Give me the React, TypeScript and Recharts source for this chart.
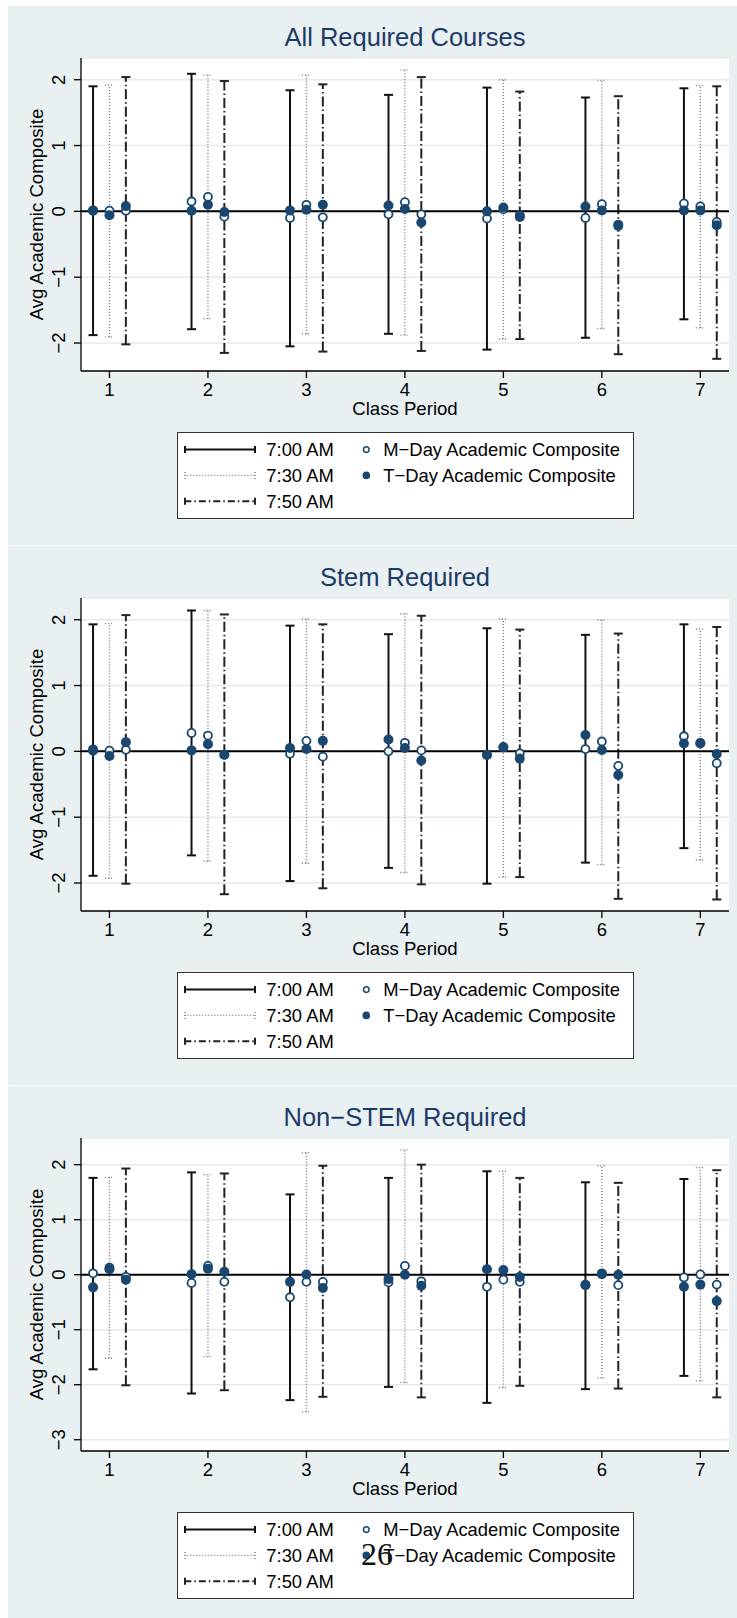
import React from 'react';
import { ScatterChart, Scatter, XAxis, YAxis, CartesianGrid, ErrorBar, Legend, Label } from 'recharts';

const periods = [1, 2, 3, 4, 5, 6, 7];
const startTimes = ['7:00 AM', '7:30 AM', '7:50 AM'];
const markerLabels = ['M−Day Academic Composite', 'T−Day Academic Composite'];
const titles = ['All Required Courses', 'Stem Required', 'Non−STEM Required'];
const slotShift = [-1 / 6, 0, 1 / 6];

// rows: 7:00, 7:30, 7:50 start ; columns: class period 1..7
const allUpper = [
  [1.90, 2.09, 1.84, 1.77, 1.88, 1.73, 1.87],
  [1.92, 2.07, 2.07, 2.15, 2.0, 1.99, 1.91],
  [2.04, 1.98, 1.93, 2.04, 1.82, 1.75, 1.90],
];
const allLower = [
  [-1.88, -1.79, -2.05, -1.86, -2.10, -1.92, -1.64],
  [-1.91, -1.63, -1.86, -1.88, -1.94, -1.78, -1.77],
  [-2.02, -2.15, -2.13, -2.12, -1.94, -2.17, -2.24],
];
const allMDay = [
  [0.01, 0.15, -0.10, -0.045, -0.11, -0.10, 0.12],
  [0.01, 0.22, 0.10, 0.14, 0.03, 0.11, 0.075],
  [0.01, -0.08, -0.09, -0.045, -0.06, -0.20, -0.16],
];
const allTDay = [
  [0.015, 0.01, 0.015, 0.09, 0.0, 0.075, 0.015],
  [-0.06, 0.10, 0.025, 0.035, 0.06, 0.015, 0.015],
  [0.08, -0.01, 0.10, -0.17, -0.085, -0.22, -0.21],
];

const stemUpper = [
  [1.93, 2.14, 1.91, 1.78, 1.87, 1.77, 1.93],
  [1.94, 2.14, 2.01, 2.09, 2.01, 2.0, 1.86],
  [2.07, 2.08, 1.93, 2.06, 1.85, 1.79, 1.89],
];
const stemLower = [
  [-1.89, -1.58, -1.97, -1.77, -2.01, -1.69, -1.47],
  [-1.93, -1.67, -1.70, -1.84, -1.91, -1.72, -1.65],
  [-2.01, -2.17, -2.08, -2.02, -1.91, -2.24, -2.25],
];
const stemMDay = [
  [0.01, 0.28, -0.035, 0.0, -0.05, 0.035, 0.23],
  [0.01, 0.24, 0.16, 0.13, 0.06, 0.15, 0.13],
  [0.025, -0.05, -0.08, 0.015, -0.03, -0.22, -0.18],
];
const stemTDay = [
  [0.03, 0.015, 0.05, 0.18, -0.055, 0.25, 0.12],
  [-0.07, 0.11, 0.035, 0.05, 0.065, 0.02, 0.12],
  [0.14, -0.05, 0.16, -0.14, -0.11, -0.36, -0.04],
];

const nonStemUpper = [
  [1.76, 1.86, 1.46, 1.76, 1.88, 1.68, 1.74],
  [1.77, 1.82, 2.22, 2.27, 1.88, 1.98, 1.95],
  [1.93, 1.84, 1.98, 2.0, 1.76, 1.67, 1.90],
];
const nonStemLower = [
  [-1.72, -2.16, -2.28, -2.04, -2.33, -2.08, -1.84],
  [-1.52, -1.49, -2.49, -1.96, -2.05, -1.88, -1.93],
  [-2.01, -2.10, -2.22, -2.23, -2.02, -2.07, -2.23],
];
const nonStemMDay = [
  [0.025, -0.15, -0.41, -0.14, -0.22, -0.18, -0.05],
  [0.13, 0.16, -0.13, 0.16, -0.09, 0.025, 0.005],
  [-0.04, -0.13, -0.13, -0.12, -0.13, -0.19, -0.18],
];
const nonStemTDay = [
  [-0.23, 0.01, -0.13, -0.08, 0.10, -0.19, -0.22],
  [0.10, 0.11, 0.005, 0.0, 0.085, 0.01, -0.18],
  [-0.09, 0.055, -0.24, -0.20, -0.04, 0.0, -0.48],
];

const yTicksA = [-2, -1, 0, 1, 2];
const yTicksB = [-3, -2, -1, 0, 1, 2];
const xDomain: [number, number] = [0.711, 7.291];

const FONT = '"Liberation Sans", Arial, Helvetica, sans-serif';
const NAVY = '#1a476f';
const PANEL_BG = '#e9f0f2';
const GRID = '#e2ebee';

const W = 729;
const CH = 539;
const PLOT_LEFT = 73;
const PLOT_TOP = 52;
const PLOT_H = 313;
const X_AXIS_H = 30;
const CENTER_X = PLOT_LEFT + (W - PLOT_LEFT - 8) / 2;

const barStyles = [
  { stroke: '#111', strokeWidth: 2, dash: undefined as string | undefined },
  { stroke: '#7a7a7a', strokeWidth: 1.4, dash: '1 2' },
  { stroke: '#222', strokeWidth: 2, dash: '10 3 1.5 3' },
];

const fmt = (v: number) => (v < 0 ? `−${Math.abs(v)}` : `${v}`);

const build = (upper: number[][], lower: number[][], m: number[][], t: number[][]) => ({
  bars: startTimes.map((_, s) =>
    periods.map((p, i) => ({ x: p + slotShift[s], y: lower[s][i], err: [0, upper[s][i] - lower[s][i]] }))
  ),
  mDay: startTimes.flatMap((_, s) => periods.map((p, i) => ({ x: p + slotShift[s], y: m[s][i] }))),
  tDay: startTimes.flatMap((_, s) => periods.map((p, i) => ({ x: p + slotShift[s], y: t[s][i] }))),
});

const panels = [
  { title: titles[0], top: 6, h: 539, domain: [-2.425, 2.33], ticks: yTicksA, ...build(allUpper, allLower, allMDay, allTDay) },
  { title: titles[1], top: 546, h: 539, domain: [-2.425, 2.33], ticks: yTicksA, ...build(stemUpper, stemLower, stemMDay, stemTDay) },
  { title: titles[2], top: 1086, h: 532, domain: [-3.205, 2.485], ticks: yTicksB, ...build(nonStemUpper, nonStemLower, nonStemMDay, nonStemTDay) },
];

const zeroLine = [{ x: xDomain[0], y: 0 }, { x: xDomain[1], y: 0 }];

const Nothing = () => <g />;
const HollowDot = (p: any) => <circle cx={p.cx} cy={p.cy} r={4} fill="#fff" stroke={NAVY} strokeWidth={1.8} />;
const SolidDot = (p: any) => <circle cx={p.cx} cy={p.cy} r={5} fill={NAVY} />;

const XTick = ({ x, y, payload }: any) => (
  <text x={x} y={y + 17.7} textAnchor="middle" fontSize={18.5} fontFamily={FONT} fill="#000">
    {payload.value}
  </text>
);

const YTick = ({ x, y, payload }: any) => {
  const bx = x - 8.5;
  return (
    <text x={bx} y={y} transform={`rotate(-90 ${bx} ${y})`} textAnchor="middle" fontSize={18.5} fontFamily={FONT} fill="#000">
      {fmt(payload.value)}
    </text>
  );
};

const YTitle = () => {
  const cx = 35.4;
  const cy = PLOT_TOP + PLOT_H / 2;
  return (
    <text x={cx} y={cy} transform={`rotate(-90 ${cx} ${cy})`} textAnchor="middle" fontSize={18.6} fontFamily={FONT} fill="#000">
      Avg Academic Composite
    </text>
  );
};

const XTitle = () => (
  <text x={CENTER_X} y={409} textAnchor="middle" fontSize={18.6} fontFamily={FONT} fill="#000">
    Class Period
  </text>
);

const LegendBox = () => {
  const rowY = [17.6, 43.4, 69.3];
  return (
    <svg width={457} height={87} style={{ display: 'block' }}>
      <rect x={0.5} y={0.5} width={456} height={86} fill="#fff" stroke="#333" strokeWidth={1} />
      {startTimes.map((t, s) => {
        const cy = rowY[s];
        const st = barStyles[s];
        return (
          <g key={t}>
            <line x1={7.3} x2={78.6} y1={cy} y2={cy} stroke={st.stroke} strokeWidth={st.strokeWidth} strokeDasharray={st.dash === '10 3 1.5 3' ? '7 3 1.5 3' : st.dash} />
            <line x1={8} x2={8} y1={cy - 3.5} y2={cy + 3.5} stroke={st.stroke} strokeWidth={st.strokeWidth} strokeDasharray={st.dash} />
            <line x1={78} x2={78} y1={cy - 3.5} y2={cy + 3.5} stroke={st.stroke} strokeWidth={st.strokeWidth} strokeDasharray={st.dash} />
            <text x={89.3} y={cy + 6.7} fontSize={18.4} fontFamily={FONT} fill="#000">{t}</text>
          </g>
        );
      })}
      <circle cx={189.3} cy={rowY[0]} r={2.8} fill="#fff" stroke={NAVY} strokeWidth={1.5} />
      <circle cx={189.3} cy={rowY[1]} r={3.8} fill={NAVY} />
      <text x={206.3} y={rowY[0] + 6.7} fontSize={18.4} fontFamily={FONT} fill="#000">{markerLabels[0]}</text>
      <text x={206.3} y={rowY[1] + 6.7} fontSize={18.4} fontFamily={FONT} fill="#000">{markerLabels[1]}</text>
    </svg>
  );
};

function Panel({ p }: { p: (typeof panels)[number] }) {
  return (
    <div style={{ position: 'absolute', left: 8, top: p.top, width: W, height: p.h, background: PANEL_BG, overflow: 'hidden' }}>
      <div
        style={{
          position: 'absolute', left: CENTER_X, top: 18.6, transform: 'translateX(-50%)', whiteSpace: 'nowrap',
          fontFamily: FONT, fontSize: 25.5, lineHeight: '25.5px', color: '#1c3a66',
        }}
      >
        {p.title}
      </div>
      <ScatterChart width={W} height={CH} margin={{ top: PLOT_TOP, right: 8, left: 0, bottom: CH - PLOT_TOP - PLOT_H - X_AXIS_H }}>
        <CartesianGrid vertical={false} stroke={GRID} strokeWidth={1.5} fill="#fff" />
        <XAxis
          type="number" dataKey="x" domain={xDomain} ticks={periods} allowDataOverflow height={X_AXIS_H}
          tickSize={7} tickMargin={0} tick={<XTick />} axisLine={{ stroke: '#000', strokeWidth: 1.3 }}
          tickLine={{ stroke: '#000', strokeWidth: 1.3 }} interval={0}
        >
          <Label content={<XTitle />} />
        </XAxis>
        <YAxis
          type="number" dataKey="y" domain={p.domain} ticks={p.ticks} allowDataOverflow width={PLOT_LEFT}
          tickSize={7} tickMargin={0} tick={<YTick />} axisLine={{ stroke: '#000', strokeWidth: 1.3 }}
          tickLine={{ stroke: '#000', strokeWidth: 1.3 }} interval={0}
        >
          <Label content={<YTitle />} />
        </YAxis>
        {startTimes.map((t, s) => (
          <Scatter key={t} name={t} data={p.bars[s]} shape={<Nothing />} legendType="none" isAnimationActive={false}>
            <ErrorBar
              dataKey="err" direction="y" width={4.5} stroke={barStyles[s].stroke}
              strokeWidth={barStyles[s].strokeWidth} strokeDasharray={barStyles[s].dash} isAnimationActive={false}
            />
          </Scatter>
        ))}
        <Scatter data={zeroLine} shape={<Nothing />} line={{ stroke: '#000', strokeWidth: 2 }} legendType="none" isAnimationActive={false} />
        <Scatter name={markerLabels[0]} data={p.mDay} shape={<HollowDot />} isAnimationActive={false} />
        <Scatter name={markerLabels[1]} data={p.tDay} shape={<SolidDot />} isAnimationActive={false} />
        <Legend
          layout="horizontal" verticalAlign="middle" align="center" content={() => <LegendBox />}
          wrapperStyle={{ left: 168.7, top: 425.7, width: 457, height: 87 }}
        />
      </ScatterChart>
    </div>
  );
}

export default function App() {
  return (
    <div style={{ position: 'absolute', left: 0, top: 0, width: 737, height: 1618, overflow: 'hidden', background: '#fff' }}>
      {panels.map((p) => (
        <Panel key={p.title} p={p} />
      ))}
      <div
        style={{
          position: 'absolute', left: 361, top: 1538, fontFamily: '"Liberation Serif", "Times New Roman", serif',
          fontSize: 32, lineHeight: '32px', color: '#111',
        }}
      >
        26
      </div>
    </div>
  );
}
